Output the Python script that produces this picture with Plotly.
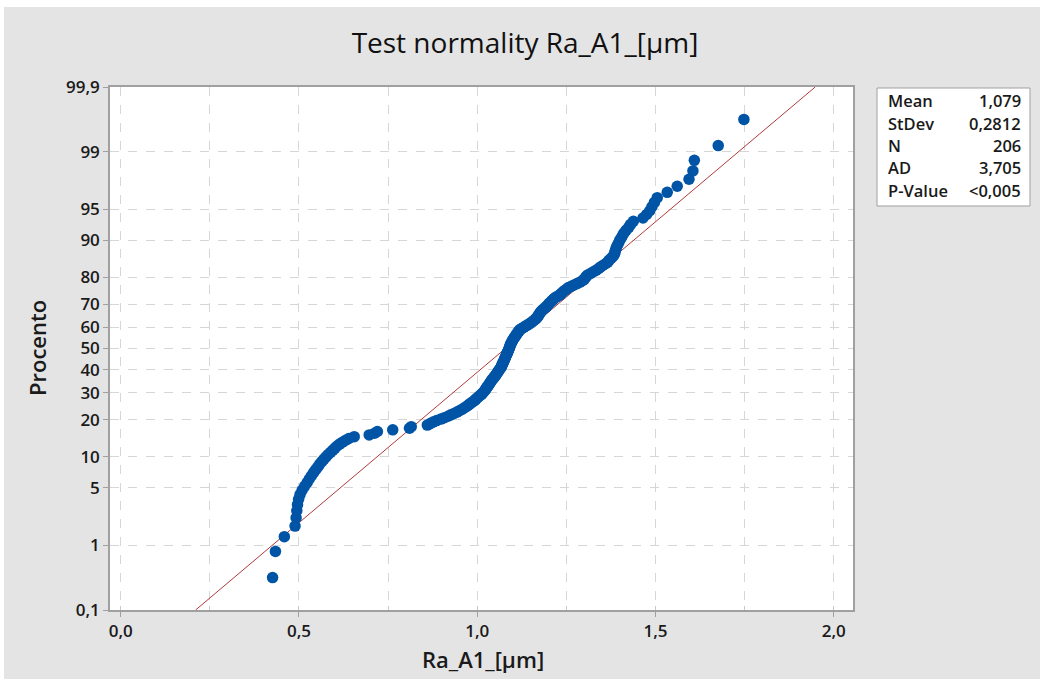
import plotly.graph_objects as go
from statistics import NormalDist

# ---------------- data ----------------
ra_values = [
    0.426, 0.434, 0.459, 0.489, 0.492, 0.494, 0.496, 0.499, 0.503, 0.509,
    0.516, 0.523, 0.529, 0.535, 0.541, 0.547, 0.553, 0.558, 0.564, 0.570,
    0.576, 0.582, 0.589, 0.595, 0.601, 0.607, 0.614, 0.622, 0.631, 0.640,
    0.655, 0.697, 0.712, 0.720, 0.763, 0.810, 0.815, 0.860, 0.868, 0.876,
    0.886, 0.898, 0.908, 0.918, 0.926, 0.935, 0.943, 0.950, 0.957, 0.963,
    0.969, 0.974, 0.978, 0.983, 0.988, 0.993, 0.996, 1.000, 1.004, 1.008,
    1.012, 1.015, 1.018, 1.021, 1.023, 1.025, 1.027, 1.030, 1.032, 1.034,
    1.036, 1.038, 1.040, 1.042, 1.045, 1.047, 1.050, 1.052, 1.054, 1.056,
    1.058, 1.060, 1.062, 1.064, 1.066, 1.068, 1.069, 1.070, 1.071, 1.073,
    1.074, 1.076, 1.077, 1.078, 1.079, 1.080, 1.082, 1.083, 1.084, 1.085,
    1.087, 1.088, 1.089, 1.090, 1.091, 1.092, 1.093, 1.094, 1.096, 1.097,
    1.099, 1.100, 1.102, 1.104, 1.106, 1.108, 1.110, 1.112, 1.114, 1.116,
    1.118, 1.121, 1.126, 1.131, 1.135, 1.140, 1.146, 1.150, 1.154, 1.158,
    1.162, 1.165, 1.168, 1.170, 1.172, 1.174, 1.176, 1.178, 1.181, 1.184,
    1.188, 1.192, 1.195, 1.198, 1.201, 1.204, 1.208, 1.211, 1.214, 1.218,
    1.224, 1.230, 1.234, 1.238, 1.242, 1.246, 1.251, 1.256, 1.264, 1.272,
    1.280, 1.288, 1.295, 1.300, 1.303, 1.306, 1.310, 1.318, 1.325, 1.333,
    1.340, 1.345, 1.352, 1.360, 1.366, 1.370, 1.375, 1.380, 1.384, 1.386,
    1.387, 1.389, 1.391, 1.394, 1.397, 1.400, 1.404, 1.408, 1.412, 1.418,
    1.425, 1.430, 1.438, 1.465, 1.475, 1.484, 1.490, 1.497, 1.505, 1.533,
    1.561, 1.594, 1.605, 1.609, 1.676, 1.748,
]

fit_mean = 1.079
fit_stdev = 0.2812

y_tick_percents = [0.1, 1, 5, 10, 20, 30, 40, 50, 60, 70, 80, 90, 95, 99, 99.9]
y_tick_labels = ["0,1", "1", "5", "10", "20", "30", "40", "50", "60", "70",
                 "80", "90", "95", "99", "99,9"]

stat_labels = ["Mean", "StDev", "N", "AD", "P-Value"]
stat_values = ["1,079", "0,2812", "206", "3,705", "<0,005"]

title_text = "Test normality Ra_A1_[µm]"
x_title = "Ra_A1_[µm]"
y_title = "Procento"

# ---------------- probability scale ----------------
nd = NormalDist()
n = len(ra_values)
xs = sorted(ra_values)
ys = [nd.inv_cdf((i + 1 - 0.3) / (n + 0.4)) for i in range(n)]
y_ticks = [nd.inv_cdf(p / 100.0) for p in y_tick_percents]
z_lo, z_hi = nd.inv_cdf(0.001), nd.inv_cdf(0.999)
line_x = [fit_mean + fit_stdev * z_lo, fit_mean + fit_stdev * z_hi]
line_y = [z_lo, z_hi]

# ---------------- layout geometry (pixels) ----------------
W, H = 1040, 679
PL, PR, PT, PB = 110, 853, 87, 610


def px2x(px):
    return (px - PL) / (PR - PL)


def py2y(py):
    return (PB - py) / (PB - PT)


FONT = "Open Sans"
TXT = "#1a1a1a"

fig = go.Figure()
fig.add_trace(go.Scatter(
    x=line_x, y=line_y, mode="lines",
    line=dict(color="#b03a3a", width=1), hoverinfo="skip"))
fig.add_trace(go.Scatter(
    x=xs, y=ys, mode="markers",
    marker=dict(color="#0054a6", size=11.5, line=dict(width=0))))

grid = "#d6d6d6"
fig.update_xaxes(
    range=[-0.030, 2.054], tickmode="linear", tick0=0, dtick=0.5,
    tickformat=".1f", ticks="outside", ticklen=5, tickcolor="#a0a0a0",
    showgrid=True, gridcolor=grid, griddash="dash", gridwidth=1,
    minor=dict(tick0=0, dtick=0.25, showgrid=True, gridcolor=grid,
               griddash="dash", ticks="inside", ticklen=4, tickcolor="#c8c8c8"),
    showline=True, mirror=True, linecolor="#a0a0a0", linewidth=1.5,
    zeroline=False, tickfont=dict(family=FONT, size=17, color=TXT, weight=600),
)
fig.update_yaxes(
    range=[z_lo, z_hi], tickmode="array", tickvals=y_ticks, ticktext=y_tick_labels,
    ticks="outside", ticklen=5, tickcolor="#a0a0a0",
    showgrid=True, gridcolor=grid, griddash="dash", gridwidth=1,
    showline=True, mirror=True, linecolor="#a0a0a0", linewidth=1.5,
    zeroline=False, tickfont=dict(family=FONT, size=17, color=TXT, weight=600),
)

annotations = [
    dict(text=y_title, xref="paper", yref="paper", x=px2x(37), y=py2y(348),
         textangle=-90, showarrow=False, xanchor="center", yanchor="middle",
         font=dict(family=FONT, size=22, color=TXT, weight=600)),
    dict(text=x_title, xref="paper", yref="paper", x=px2x(483), y=py2y(659),
         showarrow=False, xanchor="center", yanchor="middle",
         font=dict(family=FONT, size=22, color=TXT, weight=600)),
]
row_y = [101, 123, 145, 168, 190]
for lab, val, ry in zip(stat_labels, stat_values, row_y):
    annotations.append(dict(text=lab, xref="paper", yref="paper", x=px2x(886),
                            y=py2y(ry), showarrow=False, xanchor="left",
                            yanchor="middle",
                            font=dict(family=FONT, size=16.5, color=TXT, weight=600)))
    annotations.append(dict(text=val, xref="paper", yref="paper", x=px2x(1023),
                            y=py2y(ry), showarrow=False, xanchor="right",
                            yanchor="middle",
                            font=dict(family=FONT, size=16.5, color=TXT, weight=600)))

shapes = [
    dict(type="rect", xref="paper", yref="paper", x0=px2x(877), x1=px2x(1030),
         y0=py2y(206), y1=py2y(88), line=dict(color="#a0a0a0", width=1),
         fillcolor="white", layer="below"),
    dict(type="rect", xref="paper", yref="paper", x0=px2x(0), x1=px2x(W),
         y0=py2y(7), y1=py2y(-2), line=dict(width=0), fillcolor="white",
         layer="below"),
    dict(type="rect", xref="paper", yref="paper", x0=px2x(-2), x1=px2x(4),
         y0=py2y(H + 2), y1=py2y(0), line=dict(width=0), fillcolor="white",
         layer="below"),
]

fig.update_layout(
    width=W, height=H,
    margin=dict(l=PL, r=W - PR, t=PT, b=H - PB),
    paper_bgcolor="#e4e4e4", plot_bgcolor="white",
    separators=", ",
    showlegend=False,
    title=dict(text=title_text, x=525 / W, xanchor="center",
               y=1 - 43 / H, yanchor="middle",
               font=dict(family=FONT, size=28, color="#111111")),
    annotations=annotations, shapes=shapes,
)

fig.write_html("out.html")
